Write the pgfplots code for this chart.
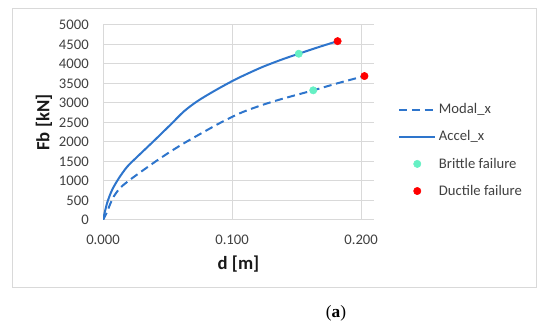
\documentclass[border=0pt]{standalone}
\usepackage{pgfplots}
\pgfplotsset{compat=1.18}
\usepackage{fontspec}
\setmainfont{Carlito}
\newfontfamily\capfont{Liberation Serif}
\definecolor{lineblue}{RGB}{46,117,204}
\definecolor{brittle}{RGB}{102,240,196}
\definecolor{gridgray}{RGB}{217,217,217}
\definecolor{txtgray}{RGB}{64,64,64}
\pgfplotsset{
  lineleg/.style={legend image code/.code={\draw[##1] (0pt,0pt) -- (27pt,0pt);}},
  dotleg/.style={legend image code/.code={\draw[##1] plot coordinates {(13.5pt,0pt)};}},
}
\begin{document}
\begin{tikzpicture}
\path[use as bounding box] (0pt,0pt) rectangle (412.5pt,246pt);
\draw[gridgray,line width=0.75pt] (9pt,30pt) rectangle (402pt,239.25pt);
\node[font=\capfont\fontsize{13}{15}\selectfont] at (252pt,11.25pt) {(\textbf{a})};
\begin{axis}[
  at={(77.25pt,81pt)}, anchor=south west,
  scale only axis,
  width=203.25pt, height=146.25pt,
  xmin=0, xmax=0.21, ymin=0, ymax=5000,
  xtick={0,0.1,0.2}, ytick={0,500,...,5000},
  scaled x ticks=false,
  axis line style={draw=none},
  major tick length=0pt,
  grid=major,
  major grid style={gridgray, line width=0.75pt},
  /pgf/number format/assume math mode=true,
  /pgf/number format/1000 sep={},
  tick label style={font=\fontsize{11}{13}\selectfont, text=txtgray, inner sep=0pt},
  yticklabel style={anchor=east, xshift=-10.5pt},
  xticklabel style={anchor=north, yshift=-11pt, /pgf/number format/fixed, /pgf/number format/fixed zerofill, /pgf/number format/precision=3},
  xlabel={\textbf{d [m]}},
  ylabel={\textbf{Fb [kN]}},
  label style={font=\fontsize{14}{16}\selectfont, text=black!90},
  x label style={at={(axis description cs:0.5,-0.2256)}, anchor=center},
  y label style={at={(axis description cs:-0.2177,0.5)}, anchor=center},
  legend style={at={(axis description cs:1.0886,0.612)}, anchor=north west,
    draw=none, fill=none, font=\fontsize{11}{13}\selectfont, row sep=7.2pt,
    inner sep=0pt, nodes={inner sep=2pt, text=txtgray}},
  legend cell align=left,
]
\addplot[lineblue, line width=1.5pt, dash pattern=on 6pt off 3.5pt, smooth, tension=0.5, lineleg]
coordinates {(0,0) (0.0031,200) (0.0052,380) (0.0083,600) (0.0135,830)
 (0.0213,1040) (0.0317,1290) (0.0447,1590) (0.0603,1920) (0.0759,2217)
 (0.0914,2500) (0.107,2750) (0.1226,2940) (0.1382,3100) (0.1629,3325)
 (0.1824,3512) (0.2026,3691)};
\addlegendentry{Modal\_x}
\addplot[lineblue, line width=1.5pt, smooth, tension=0.5, lineleg]
coordinates {(0,0) (0.0031,426) (0.007,767) (0.0122,1066) (0.0187,1364)
 (0.0265,1620) (0.0395,2030) (0.0525,2450) (0.0629,2790) (0.0733,3050)
 (0.0863,3310) (0.1,3560) (0.107,3675) (0.1226,3910) (0.1382,4110)
 (0.1517,4263) (0.1668,4430) (0.1818,4586)};
\addlegendentry{Accel\_x}
\addplot[only marks, mark=*, mark size=2.75pt, draw=brittle, fill=brittle, dotleg]
coordinates {(0.1517,4263) (0.1629,3325)};
\addlegendentry{Brittle failure}
\addplot[only marks, mark=*, mark size=2.75pt, draw=red, fill=red, dotleg]
coordinates {(0.1818,4586) (0.2026,3691)};
\addlegendentry{Ductile failure}
\end{axis}
\end{tikzpicture}
\end{document}
